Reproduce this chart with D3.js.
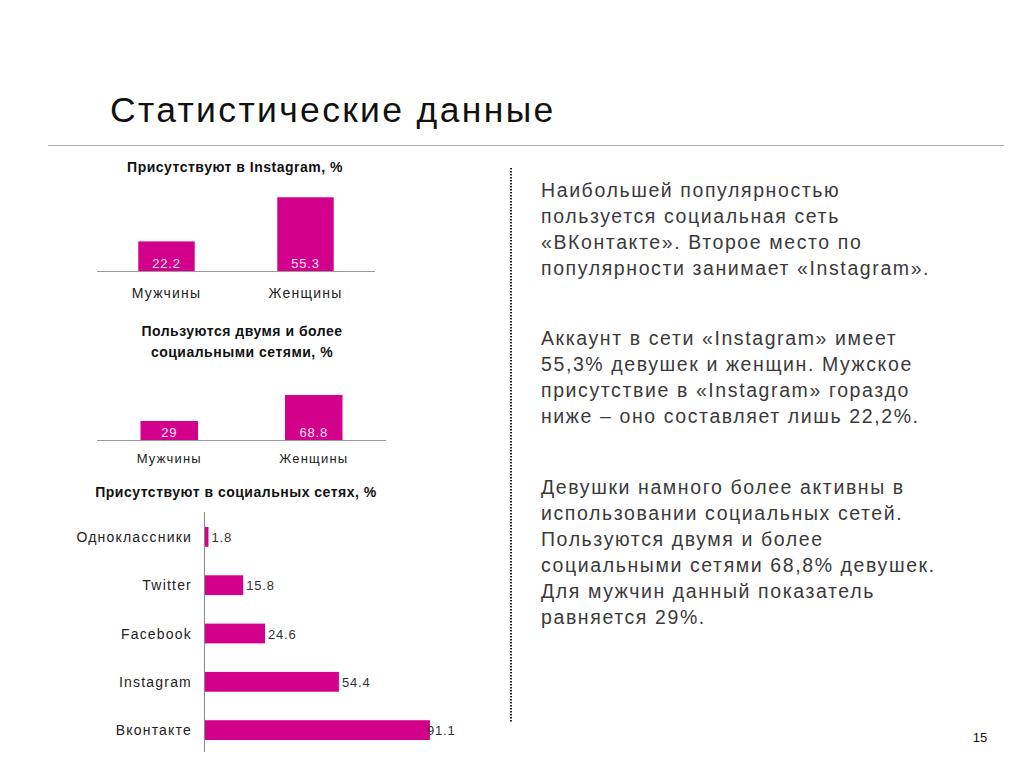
<!DOCTYPE html>
<html><head><meta charset="utf-8">
<script src="https://cdn.jsdelivr.net/npm/d3@7"></script>
<style>body{margin:0;background:#fff}svg{display:block}</style>
</head><body>
<script>
const genderCats = ["Мужчины", "Женщины"];
const instagramValues = [22.2, 55.3];
const multiNetValues = [29, 68.8];
const networkCats = ["Одноклассники", "Twitter", "Facebook", "Instagram", "Вконтакте"];
const networkValues = [1.8, 15.8, 24.6, 54.4, 91.1];
const pageTitle = "Статистические данные";
const chart1Title = ["Присутствуют в Instagram, %"];
const chart2Title = ["Пользуются двумя и более", "социальными сетями, %"];
const chart3Title = ["Присутствуют в социальных сетях, %"];
const paragraphs = [
  ["Наибольшей популярностью", "пользуется социальная сеть", "«ВКонтакте». Второе место по", "популярности занимает «Instagram»."],
  ["Аккаунт в сети «Instagram» имеет", "55,3% девушек и женщин. Мужское", "присутствие в «Instagram» гораздо", "ниже – оно составляет лишь 22,2%."],
  ["Девушки намного более активны в", "использовании социальных сетей.", "Пользуются двумя и более", "социальными сетями 68,8% девушек.", "Для мужчин данный показатель", "равняется 29%."]
];
const pageNumber = "15";

const BAR = "#d3008b";
const FONT = "'Liberation Sans', Arial, sans-serif";
const svg = d3.select("body").append("svg").attr("width", 1024).attr("height", 768)
  .style("font-family", FONT);

// Page title and rule
svg.append("text").attr("x", 110).attr("y", 122).attr("font-size", 35.5).attr("letter-spacing", 2.35)
  .attr("fill", "#111").text(pageTitle);
svg.append("line").attr("x1", 48).attr("x2", 1004).attr("y1", 145.5).attr("y2", 145.5).attr("stroke", "#aaa");

// dotted divider
svg.append("line").attr("x1", 511).attr("x2", 511).attr("y1", 168).attr("y2", 722)
  .attr("stroke", "#222").attr("stroke-width", 2).attr("stroke-dasharray", "1.5,1.5");

function title(lines, cx, y0, lh) {
  const t = svg.append("text").attr("text-anchor", "middle").attr("font-size", 14)
    .attr("letter-spacing", 0.5).attr("font-weight", "bold").attr("fill", "#111");
  lines.forEach((l, i) => t.append("tspan").attr("x", cx).attr("y", y0 + i * lh).text(l));
}

function columnChart(values, cfg) {
  const x = d3.scaleBand().domain(genderCats).range([cfg.x0, cfg.x1])
    .paddingInner(cfg.pi).paddingOuter(cfg.po);
  const y = d3.scaleLinear().domain([0, 100]).range([cfg.base, cfg.base - cfg.ppu * 100]);
  const g = svg.append("g");
  g.selectAll("rect").data(values).join("rect")
    .attr("x", (d, i) => x(genderCats[i])).attr("width", x.bandwidth())
    .attr("y", d => y(d)).attr("height", d => y(0) - y(d)).attr("fill", BAR);
  g.append("line").attr("x1", cfg.x0).attr("x2", cfg.x1).attr("y1", cfg.base + 0.5).attr("y2", cfg.base + 0.5)
    .attr("stroke", "#999");
  g.selectAll("text.v").data(values).join("text").attr("class", "v")
    .attr("x", (d, i) => x(genderCats[i]) + x.bandwidth() / 2).attr("y", cfg.base - 3)
    .attr("text-anchor", "middle").attr("font-size", 13).attr("letter-spacing", 0.8)
    .attr("fill", "#fbe3f4").text(d => d);
  g.selectAll("text.c").data(genderCats).join("text").attr("class", "c")
    .attr("x", d => x(d) + x.bandwidth() / 2).attr("y", cfg.labY)
    .attr("text-anchor", "middle").attr("font-size", cfg.labSize).attr("letter-spacing", 1.2)
    .attr("fill", "#222").text(d => d);
}

title(chart1Title, 235, 172, 21);
columnChart(instagramValues, {x0: 97, x1: 375, pi: 0.594, po: 0.297, base: 271, ppu: 1.333, labY: 298, labSize: 14});

title(chart2Title, 242, 336, 21);
columnChart(multiNetValues, {x0: 97, x1: 386, pi: 0.602, po: 0.301, base: 440, ppu: 0.655, labY: 463, labSize: 13});

// Horizontal bar chart
title(chart3Title, 236, 497, 21);
const hx = d3.scaleLinear().domain([0, 100]).range([204, 452]);
const hy = d3.scaleBand().domain(networkCats).range([512, 755]).paddingInner(0.59).paddingOuter(0.31);
const hg = svg.append("g");
hg.selectAll("rect").data(networkValues).join("rect")
  .attr("x", hx(0)).attr("y", (d, i) => hy(networkCats[i]))
  .attr("width", d => hx(d) - hx(0)).attr("height", hy.bandwidth()).attr("fill", BAR);
hg.append("line").attr("x1", 204.5).attr("x2", 204.5).attr("y1", 512).attr("y2", 752).attr("stroke", "#888");
hg.selectAll("text.v").data(networkValues).join("text").attr("class", "v")
  .attr("x", d => hx(d) + (d > 80 ? -3 : 3)).attr("y", (d, i) => hy(networkCats[i]) + hy.bandwidth() / 2 + 5)
  .attr("font-size", 13).attr("letter-spacing", 0.8).attr("fill", "#333").text(d => d);
hg.selectAll("text.c").data(networkCats).join("text").attr("class", "c")
  .attr("x", 192).attr("y", d => hy(d) + hy.bandwidth() / 2 + 5)
  .attr("text-anchor", "end").attr("font-size", 14).attr("letter-spacing", 1.2)
  .attr("fill", "#222").text(d => d);

// Paragraphs
const paraStarts = [197, 345, 494];
paragraphs.forEach((p, pi) => {
  const t = svg.append("text").attr("font-size", 19.5).attr("letter-spacing", 1.6).attr("fill", "#3a3a3a");
  p.forEach((l, i) => t.append("tspan").attr("x", 541).attr("y", paraStarts[pi] + i * 26).text(l));
});

svg.append("text").attr("x", 980).attr("y", 742).attr("text-anchor", "middle")
  .attr("font-size", 13).attr("fill", "#111").text(pageNumber);
</script>
</body></html>
